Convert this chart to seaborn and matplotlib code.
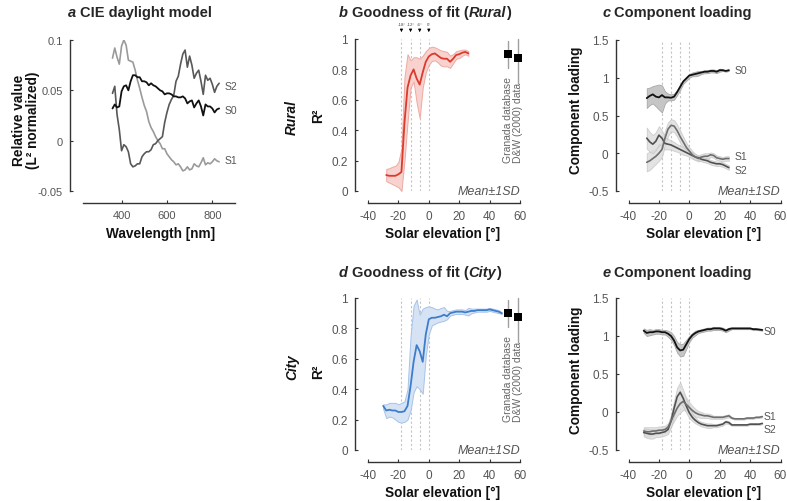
import numpy as np
import pandas as pd
import seaborn as sns
import matplotlib.pyplot as plt
from matplotlib.ticker import FuncFormatter

sns.set_theme(style="ticks")
plt.rcParams['font.family'] = ['Liberation Sans', 'DejaVu Sans']
plt.rcParams['axes.unicode_minus'] = False

W, H, DPI = 787, 502, 100

# ---- panel a: CIE daylight basis functions (L2 normalized) ----
wavelength = list(range(360, 840, 10))
cie_s0 = [0.032, 0.036, 0.033, 0.034, 0.049, 0.054, 0.055, 0.050, 0.059, 0.065,
          0.065, 0.063, 0.063, 0.059, 0.059, 0.058, 0.055, 0.057, 0.055, 0.054,
          0.052, 0.050, 0.049, 0.046, 0.047, 0.047, 0.046, 0.044, 0.044, 0.043,
          0.043, 0.044, 0.042, 0.037, 0.039, 0.040, 0.033, 0.037, 0.040, 0.034,
          0.025, 0.036, 0.034, 0.034, 0.032, 0.028, 0.031, 0.032]
cie_s1 = [0.082, 0.092, 0.083, 0.076, 0.094, 0.100, 0.095, 0.080, 0.079, 0.078,
          0.070, 0.060, 0.052, 0.043, 0.035, 0.029, 0.019, 0.013, 0.009, 0.004,
          0.000, -0.003, -0.008, -0.008, -0.013, -0.016, -0.019, -0.021, -0.024, -0.023,
          -0.026, -0.030, -0.029, -0.026, -0.029, -0.028, -0.023, -0.025, -0.026, -0.022,
          -0.017, -0.024, -0.022, -0.023, -0.021, -0.018, -0.020, -0.021]
cie_s2 = [0.047, 0.054, 0.026, 0.011, -0.010, -0.004, -0.006, -0.011, -0.023, -0.026,
          -0.025, -0.023, -0.023, -0.016, -0.013, -0.011, -0.011, -0.009, -0.004, -0.003,
          0.000, 0.002, 0.004, 0.018, 0.028, 0.036, 0.041, 0.045, 0.059, 0.064,
          0.076, 0.086, 0.090, 0.073, 0.084, 0.075, 0.062, 0.067, 0.070, 0.059,
          0.046, 0.065, 0.060, 0.062, 0.056, 0.048, 0.054, 0.057]

# ---- solar elevation grids ----
sun_marks = [-18, -12, -6, 0]
sun_labels = ['-18°', '-12°', '-6°', '0°']
rural_elev = list(range(-28, 28, 2))
city_elev = list(range(-30, 50, 2))

# ---- panel b: goodness of fit, rural ----
rural_r2 = [0.105, 0.10, 0.10, 0.10, 0.11, 0.125, 0.45, 0.68, 0.76, 0.80,
            0.74, 0.70, 0.78, 0.85, 0.885, 0.90, 0.905, 0.89, 0.875, 0.87,
            0.87, 0.85, 0.87, 0.895, 0.90, 0.91, 0.915, 0.905]
rural_r2_hi = [0.145, 0.15, 0.16, 0.165, 0.19, 0.28, 0.75, 0.90, 0.86, 0.88,
               0.88, 0.87, 0.89, 0.92, 0.94, 0.95, 0.945, 0.935, 0.925, 0.92,
               0.915, 0.89, 0.90, 0.92, 0.925, 0.93, 0.93, 0.92]
rural_r2_lo = [0.065, 0.055, 0.045, 0.035, 0.025, 0.0, 0.2, 0.45, 0.68, 0.72,
               0.58, 0.48, 0.68, 0.78, 0.83, 0.855, 0.86, 0.845, 0.825, 0.82,
               0.82, 0.81, 0.84, 0.87, 0.875, 0.89, 0.90, 0.89]

# ---- panel d: goodness of fit, city ----
city_r2 = [0.29, 0.26, 0.265, 0.26, 0.26, 0.25, 0.25, 0.255, 0.29, 0.42,
           0.58, 0.69, 0.65, 0.58, 0.76, 0.86, 0.87, 0.87, 0.875, 0.88,
           0.89, 0.88, 0.90, 0.905, 0.91, 0.91, 0.91, 0.905, 0.91, 0.915,
           0.915, 0.92, 0.92, 0.92, 0.92, 0.925, 0.92, 0.915, 0.91, 0.90]
city_r2_hi = [0.30, 0.30, 0.31, 0.31, 0.31, 0.30, 0.31, 0.32, 0.40, 0.75,
              0.95, 0.99, 0.89, 0.93, 0.94, 0.945, 0.94, 0.93, 0.925, 0.935,
              0.94, 0.915, 0.915, 0.92, 0.925, 0.925, 0.925, 0.92, 0.935, 0.93,
              0.93, 0.93, 0.93, 0.93, 0.93, 0.935, 0.93, 0.925, 0.92, 0.905]
city_r2_lo = [0.27, 0.21, 0.22, 0.215, 0.20, 0.185, 0.18, 0.185, 0.20, 0.26,
              0.38, 0.42, 0.40, 0.37, 0.62, 0.76, 0.82, 0.83, 0.84, 0.845,
              0.85, 0.86, 0.885, 0.89, 0.895, 0.895, 0.895, 0.89, 0.885, 0.90,
              0.905, 0.91, 0.91, 0.91, 0.91, 0.915, 0.91, 0.905, 0.90, 0.895]

# reference data sets shown at the right of b and d
ref_names = ['Granada database', 'D&W (2000) data']
ref_elev = [52, 59]
ref_r2 = [0.90, 0.875]
ref_lo = [0.81, 0.71]
ref_hi = [0.99, 1.0]

# ---- panel c: component loading, rural ----
rural_s0 = [0.73, 0.76, 0.78, 0.75, 0.74, 0.77, 0.74, 0.74, 0.735, 0.75,
            0.81, 0.88, 0.95, 0.99, 1.03, 1.04, 1.05, 1.06, 1.07, 1.08,
            1.08, 1.09, 1.09, 1.08, 1.10, 1.10, 1.09, 1.10]
rural_s0_hi = [0.86, 0.87, 0.89, 0.90, 0.91, 0.90, 0.82, 0.79, 0.78, 0.79,
               0.84, 0.91, 0.97, 1.01, 1.05, 1.07, 1.08, 1.09, 1.09, 1.10,
               1.10, 1.11, 1.11, 1.10, 1.12, 1.11, 1.10, 1.11]
rural_s0_lo = [0.60, 0.64, 0.66, 0.62, 0.58, 0.54, 0.66, 0.70, 0.70, 0.71,
               0.77, 0.84, 0.92, 0.96, 1.00, 1.02, 1.02, 1.03, 1.05, 1.06,
               1.06, 1.07, 1.07, 1.06, 1.08, 1.09, 1.08, 1.09]
rural_s1 = [-0.12, -0.10, -0.07, -0.04, 0.00, 0.05, 0.20, 0.32, 0.37, 0.36,
            0.30, 0.22, 0.15, 0.08, 0.03, -0.02, -0.05, -0.07, -0.05, -0.04,
            -0.04, -0.02, -0.03, -0.06, -0.07, -0.08, -0.07, -0.07]
rural_s1_sd = [0.12, 0.12, 0.11, 0.10, 0.10, 0.10, 0.10, 0.09, 0.08, 0.08,
               0.08, 0.08, 0.07, 0.06, 0.05, 0.05, 0.04, 0.04, 0.04, 0.04,
               0.04, 0.03, 0.03, 0.03, 0.03, 0.03, 0.03, 0.03]
rural_s2 = [0.20, 0.15, 0.12, 0.16, 0.24, 0.20, 0.13, 0.12, 0.11, 0.09,
            0.07, 0.05, 0.03, 0.01, -0.01, -0.03, -0.05, -0.06, -0.08, -0.09,
            -0.10, -0.12, -0.13, -0.14, -0.14, -0.15, -0.17, -0.19]
rural_s2_sd = [0.14, 0.13, 0.12, 0.12, 0.12, 0.10, 0.08, 0.07, 0.06, 0.06,
               0.05, 0.05, 0.05, 0.04, 0.04, 0.04, 0.04, 0.03, 0.03, 0.03,
               0.03, 0.03, 0.03, 0.03, 0.03, 0.03, 0.03, 0.03]

# ---- panel e: component loading, city ----
city_s0 = [1.07, 1.04, 1.05, 1.05, 1.06, 1.06, 1.05, 1.05, 1.03, 1.00,
           0.94, 0.85, 0.81, 0.82, 0.89, 0.96, 1.01, 1.04, 1.06, 1.07,
           1.08, 1.09, 1.09, 1.10, 1.10, 1.10, 1.09, 1.07, 1.09, 1.10,
           1.10, 1.10, 1.10, 1.10, 1.10, 1.10, 1.09, 1.09, 1.085, 1.08]
city_s0_sd = [0.03, 0.04, 0.04, 0.03, 0.03, 0.03, 0.03, 0.03, 0.04, 0.05,
              0.06, 0.07, 0.08, 0.08, 0.06, 0.04, 0.03, 0.03, 0.02, 0.02,
              0.02, 0.02, 0.02, 0.02, 0.02, 0.02, 0.02, 0.02, 0.02, 0.01,
              0.01, 0.01, 0.01, 0.01, 0.01, 0.01, 0.01, 0.01, 0.01, 0.01]
city_s1 = [-0.25, -0.26, -0.26, -0.25, -0.25, -0.24, -0.24, -0.23, -0.20, -0.12,
           -0.03, 0.05, 0.11, 0.14, 0.10, 0.06, 0.02, -0.01, -0.03, -0.04,
           -0.05, -0.05, -0.06, -0.07, -0.07, -0.07, -0.07, -0.06, -0.05, -0.08,
           -0.09, -0.09, -0.09, -0.09, -0.08, -0.08, -0.08, -0.07, -0.07, -0.06]
city_s1_sd = [0.05, 0.06, 0.06, 0.05, 0.05, 0.05, 0.05, 0.05, 0.05, 0.07,
              0.09, 0.10, 0.12, 0.11, 0.09, 0.07, 0.06, 0.05, 0.04, 0.04,
              0.03, 0.03, 0.03, 0.02, 0.02, 0.02, 0.02, 0.02, 0.02, 0.01,
              0.01, 0.01, 0.01, 0.01, 0.01, 0.01, 0.01, 0.01, 0.01, 0.01]
city_s2 = [-0.27, -0.28, -0.29, -0.29, -0.28, -0.28, -0.27, -0.26, -0.23, -0.12,
           0.05, 0.20, 0.26, 0.18, 0.08, -0.01, -0.07, -0.11, -0.14, -0.16,
           -0.17, -0.18, -0.18, -0.18, -0.18, -0.17, -0.16, -0.13, -0.14, -0.17,
           -0.17, -0.17, -0.17, -0.17, -0.17, -0.16, -0.16, -0.16, -0.16, -0.15]
city_s2_sd = [0.05, 0.06, 0.06, 0.06, 0.05, 0.05, 0.05, 0.05, 0.06, 0.08,
              0.10, 0.12, 0.13, 0.11, 0.09, 0.07, 0.05, 0.04, 0.03, 0.03,
              0.03, 0.03, 0.03, 0.02, 0.02, 0.02, 0.02, 0.02, 0.02, 0.01,
              0.01, 0.01, 0.01, 0.01, 0.01, 0.01, 0.01, 0.01, 0.01, 0.01]


SPINE = '#333333'
TICKC = '#555555'
fmt = FuncFormatter(lambda v, p: f"{v:g}")

fig = plt.figure(figsize=(W / DPI, H / DPI), dpi=DPI)
fig.patch.set_facecolor('white')


def add_ax(left, top, right, bottom):
    return fig.add_axes([left / W, 1 - bottom / H, (right - left) / W, (bottom - top) / H])


def style(ax, size=8.5):
    sns.despine(ax=ax, offset={'left': 13 * 72 / DPI, 'bottom': 12 * 72 / DPI})
    for s in ['left', 'bottom']:
        ax.spines[s].set_color(SPINE)
        ax.spines[s].set_linewidth(1.0)
    ax.tick_params(direction='in', length=2.5, width=0.8, color=SPINE,
                   labelcolor=TICKC, labelsize=size, pad=5)
    ax.xaxis.set_major_formatter(fmt)
    ax.yaxis.set_major_formatter(fmt)
    ax.set_facecolor('none')
    ax.grid(False)


def ftext(x, y, s, **kw):
    return fig.text(x / W, 1 - y / H, s, **kw)


def rich_title(xc, yc, parts, size=10.5):
    r = fig.canvas.get_renderer()
    gap = 0.278 * size * DPI / 72
    texts = [ftext(0, yc, s, fontsize=size, fontweight='bold', fontstyle=st,
                   va='center', ha='left') for s, st in parts]
    widths = [t.get_window_extent(renderer=r).width for t in texts]
    total = sum(widths) + gap
    x = xc - total / 2
    for i, (t, w) in enumerate(zip(texts, widths)):
        t.set_x(x / W)
        x += w + (gap if i == 0 else 0)


def sun_lines(ax):
    for v in sun_marks:
        ax.axvline(v, color='#c4c4c4', lw=0.8, ls=(0, (2, 2)), zorder=0)


def mean_sd_note(ax):
    ax.text(1.0, 0.0, 'Mean±1SD', transform=ax.transAxes, ha='right', va='center',
            fontstyle='italic', fontsize=9, color='#555555')


# ---------- panel a ----------
ax_a = add_ax(83, 41, 235, 192)
sns.lineplot(x=wavelength, y=cie_s1, color='#9a9a9a', lw=1.2, ax=ax_a)
sns.lineplot(x=wavelength, y=cie_s2, color='#585858', lw=1.2, ax=ax_a)
sns.lineplot(x=wavelength, y=cie_s0, color='#111111', lw=1.3, ax=ax_a)
ax_a.set_xlim(230, 900)
ax_a.set_ylim(-0.05, 0.1)
ax_a.set_xticks([400, 600, 800])
ax_a.set_yticks([-0.05, 0, 0.05, 0.1])
style(ax_a, size=8)
for lab, yv in zip(['S2', 'S0', 'S1'], [0.054, 0.030, -0.019]):
    ax_a.text(852, yv, lab, fontsize=7.5, color='#555555', va='center', ha='left')


# ---------- panels b, d ----------
def r2_panel(ax, x, mean, lo, hi, line_c, face_c, edge_c):
    sun_lines(ax)
    ax.fill_between(x, lo, hi, facecolor=face_c, edgecolor=edge_c, lw=0.7, zorder=1)
    sns.lineplot(x=x, y=mean, color=line_c, lw=1.3, ax=ax, zorder=2)
    for xi, l, h in zip(ref_elev, ref_lo, ref_hi):
        ax.plot([xi, xi], [l, h], color='#a0a0a0', lw=1.0, clip_on=False, zorder=3)
    sns.scatterplot(x=ref_elev, y=ref_r2, marker='s', s=26, color='black',
                    edgecolor='black', linewidth=0, ax=ax, clip_on=False, zorder=4)
    for xi, name in zip(ref_elev, ref_names):
        ax.text(xi, 0.19, name, rotation=90, ha='center', va='bottom',
                fontsize=7.5, color='#666666')
    ax.set_xlim(-40, 60)
    ax.set_ylim(0, 1)
    ax.set_xticks([-40, -20, 0, 20, 40, 60])
    ax.set_yticks([0, 0.2, 0.4, 0.6, 0.8, 1])
    style(ax)
    mean_sd_note(ax)


ax_b = add_ax(368, 40, 520, 192)
r2_panel(ax_b, rural_elev, rural_r2, rural_r2_lo, rural_r2_hi,
         '#dc3a2c', '#f8d2ce', '#efa9a3')
for v, lab in zip(sun_marks, sun_labels):
    ax_b.annotate(lab, xy=(v, 1.045), xytext=(v, 1.085), ha='center', va='bottom',
                  fontsize=3.2, color='#444444', annotation_clip=False,
                  arrowprops=dict(arrowstyle='-|>', color='black', lw=0.6,
                                  mutation_scale=4, shrinkA=0, shrinkB=0))

ax_d = add_ax(368, 299, 520, 451)
r2_panel(ax_d, city_elev, city_r2, city_r2_lo, city_r2_hi,
         '#3d7dcc', '#d6e3f4', '#a6c3e8')


# ---------- panels c, e ----------
def load_panel(ax, x, s0, s0_lo, s0_hi, s1, s1_sd, s2, s2_sd, lab_x, lab_y):
    sun_lines(ax)
    s1 = np.array(s1); s1_sd = np.array(s1_sd)
    s2 = np.array(s2); s2_sd = np.array(s2_sd)
    ax.fill_between(x, s1 - s1_sd, s1 + s1_sd, facecolor='#dcdcdc', edgecolor='#c4c4c4',
                    lw=0.6, alpha=0.8, zorder=1)
    ax.fill_between(x, s2 - s2_sd, s2 + s2_sd, facecolor='#dcdcdc', edgecolor='#c4c4c4',
                    lw=0.6, alpha=0.8, zorder=1)
    ax.fill_between(x, s0_lo, s0_hi, facecolor='#c6c6c6', edgecolor='#a8a8a8',
                    lw=0.6, zorder=1)
    sns.lineplot(x=x, y=s2, color='#505050', lw=1.2, ax=ax, zorder=2)
    sns.lineplot(x=x, y=s1, color='#6e6e6e', lw=1.2, ax=ax, zorder=2)
    sns.lineplot(x=x, y=s0, color='#111111', lw=1.3, ax=ax, zorder=3)
    for lab, yv in zip(['S0', 'S1', 'S2'], lab_y):
        ax.text(lab_x, yv, lab, fontsize=7.5, color='#555555', va='center', ha='left')
    ax.set_xlim(-40, 60)
    ax.set_ylim(-0.5, 1.5)
    ax.set_xticks([-40, -20, 0, 20, 40, 60])
    ax.set_yticks([-0.5, 0, 0.5, 1, 1.5])
    style(ax)
    mean_sd_note(ax)


ax_c = add_ax(628.5, 41, 780.5, 192)
load_panel(ax_c, rural_elev, rural_s0, rural_s0_lo, rural_s0_hi,
           rural_s1, rural_s1_sd, rural_s2, rural_s2_sd, 29.5, [1.10, -0.03, -0.22])

ax_e = add_ax(628.5, 299, 780.5, 451)
cs0 = np.array(city_s0); csd = np.array(city_s0_sd)
load_panel(ax_e, city_elev, cs0, cs0 - csd, cs0 + csd,
           city_s1, city_s1_sd, city_s2, city_s2_sd, 48.7, [1.07, -0.05, -0.22])


# ---------- labels ----------
LAB = dict(fontsize=9.8, fontweight='bold', color='#111111', ha='center', va='center')
ftext(26, 120, 'Relative value\n(L² normalized)', rotation=90, linespacing=1.0, **LAB)
ftext(318, 116, 'R²', rotation=90, **LAB)
ftext(318, 372, 'R²', rotation=90, **LAB)
ftext(576, 110, 'Component loading', rotation=90, **LAB)
ftext(576, 370, 'Component loading', rotation=90, **LAB)
ftext(161, 234, 'Wavelength [nm]', **LAB)
ftext(443, 234, 'Solar elevation [°]', **LAB)
ftext(704, 234, 'Solar elevation [°]', **LAB)
ftext(443, 493, 'Solar elevation [°]', **LAB)
ftext(704, 493, 'Solar elevation [°]', **LAB)
ftext(292, 118, 'Rural', rotation=90, fontstyle='italic', **LAB)
ftext(292, 367, 'City', rotation=90, fontstyle='italic', **LAB)

rich_title(140, 13, [('a', 'italic'), ('CIE daylight model', 'normal')])
rich_title(425, 13, [('b', 'italic'), ('Goodness of fit (', 'normal'), ('Rural', 'italic'), (')', 'normal')])
rich_title(677, 13, [('c', 'italic'), ('Component loading', 'normal')])
rich_title(420, 273, [('d', 'italic'), ('Goodness of fit (', 'normal'), ('City', 'italic'), (')', 'normal')])
rich_title(677, 273, [('e', 'italic'), ('Component loading', 'normal')])

fig.savefig('out.png', dpi=DPI, facecolor='white')
